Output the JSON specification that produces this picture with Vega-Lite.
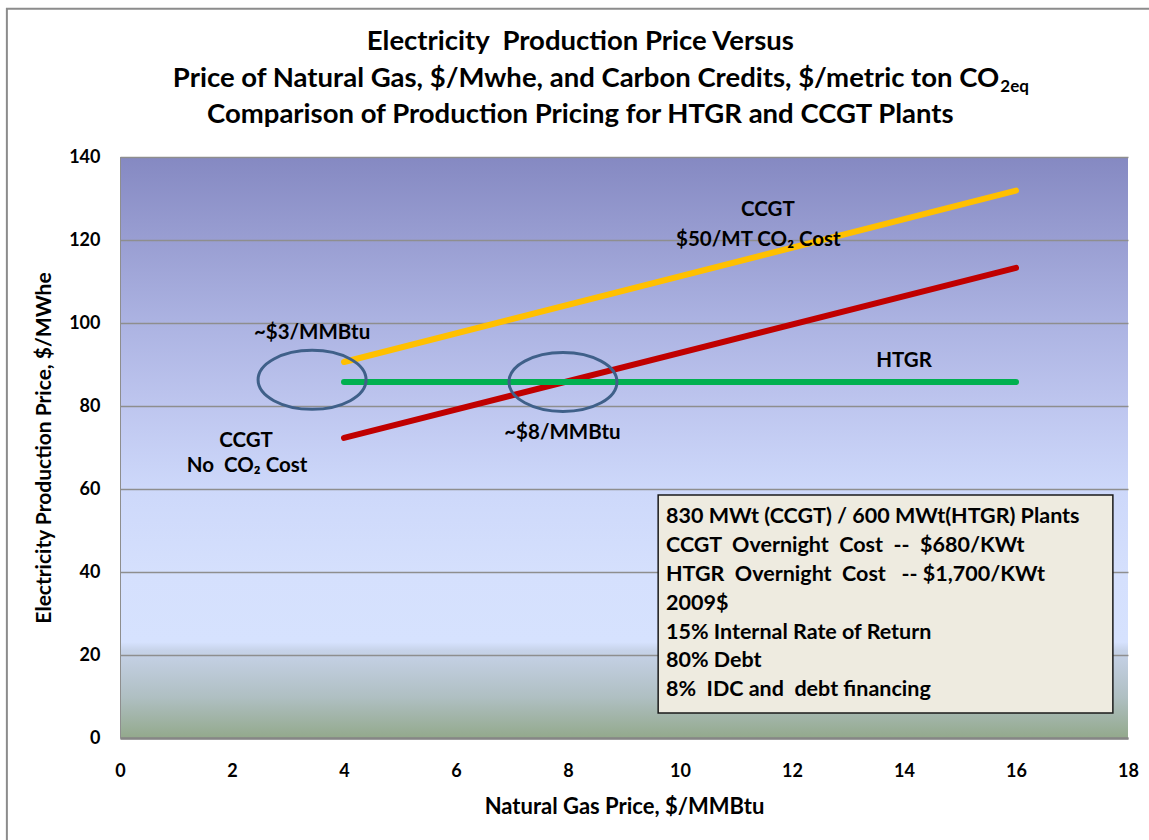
{
  "$schema": "https://vega.github.io/schema/vega-lite/v6.json",
  "width": 1008,
  "height": 581,
  "autosize": {"type": "none"},
  "padding": {"left": 120, "top": 157, "right": 21, "bottom": 102},
  "background": "white",
  "config": {
    "font": "Lato",
    "view": {
      "stroke": null,
      "fill": {
        "gradient": "linear", "x1": 0, "y1": 0, "x2": 0, "y2": 1,
        "stops": [
          {"offset": 0, "color": "#8589C2"},
          {"offset": 0.143, "color": "#999ED2"},
          {"offset": 0.286, "color": "#ACB3E2"},
          {"offset": 0.43, "color": "#BEC6EF"},
          {"offset": 0.57, "color": "#CDD8FA"},
          {"offset": 0.72, "color": "#D5E0FD"},
          {"offset": 0.835, "color": "#D6E2FE"},
          {"offset": 0.85, "color": "#C6D2E8"},
          {"offset": 0.93, "color": "#AFBFC2"},
          {"offset": 1, "color": "#93A98C"}
        ]
      }
    },
    "axis": {
      "labelFont": "Lato", "labelFontWeight": "bold", "labelFontSize": 18, "labelColor": "black",
      "titleFont": "Lato", "titleFontWeight": "bold", "titleColor": "black",
      "ticks": false
    }
  },
  "datasets": {
    "series": [
      {"series": "CCGT $50/MT CO2", "x": 4, "y": 90.6},
      {"series": "CCGT $50/MT CO2", "x": 16, "y": 131.9},
      {"series": "CCGT No CO2", "x": 4, "y": 72.3},
      {"series": "CCGT No CO2", "x": 16, "y": 113.3},
      {"series": "HTGR", "x": 4, "y": 85.8},
      {"series": "HTGR", "x": 16, "y": 85.8}
    ],
    "circles": [
      {"label": "~$3/MMBtu", "x": 3.43, "y": 86.3},
      {"label": "~$8/MMBtu", "x": 7.91, "y": 85.8}
    ],
    "notes": [
      {"x": 11.57, "y": 127.2, "text": "CCGT"},
      {"x": 11.4, "y": 120.0, "text": "$50/MT CO₂ Cost"},
      {"x": 14.0, "y": 90.8, "text": "HTGR"},
      {"x": 3.43, "y": 97.6, "text": "~$3/MMBtu"},
      {"x": 7.9, "y": 73.5, "text": "~$8/MMBtu"},
      {"x": 2.25, "y": 71.6, "text": "CCGT"},
      {"x": 2.27, "y": 65.5, "text": "No\u00a0 CO₂ Cost"}
    ],
    "box": [
      {"x": 9.75, "y": 53.3, "text": "830 MWt (CCGT) / 600 MWt(HTGR) Plants"},
      {"x": 9.75, "y": 46.3, "text": "CCGT\u00a0 Overnight\u00a0 Cost\u00a0 --\u00a0 $680/KWt"},
      {"x": 9.75, "y": 39.3, "text": "HTGR\u00a0 Overnight\u00a0 Cost\u00a0\u00a0 -- $1,700/KWt"},
      {"x": 9.75, "y": 32.3, "text": "2009$"},
      {"x": 9.75, "y": 25.3, "text": "15% Internal Rate of Return"},
      {"x": 9.75, "y": 18.6, "text": "80% Debt"},
      {"x": 9.75, "y": 11.6, "text": "8%\u00a0 IDC and\u00a0 debt financing"}
    ],
    "titleCenter": [
      {"x": 8.22, "y": 167.7, "text": "Electricity\u00a0 Production Price Versus"},
      {"x": 8.22, "y": 150.1, "text": "Comparison of Production Pricing for HTGR and CCGT Plants"}
    ],
    "titleMain2": [
      {"x": 15.70, "y": 158.8, "text": "Price of Natural Gas, $/Mwhe, and Carbon Credits, $/metric ton CO"}
    ],
    "titleSub2": [
      {"x": 15.72, "y": 156.8, "text": "2eq"}
    ]
  },
  "layer": [
    {
      "data": {"values": [{}]},
      "mark": {"type": "rect", "filled": false, "stroke": "#8C8C8C", "strokeWidth": 2, "clip": false},
      "encoding": {
        "x": {"datum": -2.02, "type": "quantitative", "scale": {"domain": [0, 18], "nice": false}, "title": "Natural Gas Price, $/MMBtu"},
        "x2": {"datum": 18.45},
        "y": {"datum": 175.7, "type": "quantitative", "scale": {"domain": [0, 140], "nice": false}, "title": "Electricity Production Price, $/MWhe"},
        "y2": {"datum": -25.5}
      }
    },
    {
      "data": {"name": "series"},
      "mark": {"type": "line", "strokeWidth": 6, "strokeCap": "round"},
      "encoding": {
        "x": {
          "field": "x", "type": "quantitative",
          "scale": {"domain": [0, 18], "nice": false},
          "title": "Natural Gas Price, $/MMBtu",
          "axis": {
            "values": [0, 2, 4, 6, 8, 10, 12, 14, 16, 18], "format": "d",
            "grid": false, "domain": true, "domainColor": "#868686", "domainWidth": 2.5,
            "labelPadding": 24, "labelFlush": false, "titleFontSize": 22, "titlePadding": 16
          }
        },
        "y": {
          "field": "y", "type": "quantitative",
          "scale": {"domain": [0, 140], "nice": false},
          "title": "Electricity Production Price, $/MWhe",
          "axis": {
            "values": [0, 20, 40, 60, 80, 100, 120, 140], "format": "d",
            "grid": true, "gridColor": "#8E8E8E", "gridWidth": 1.5,
            "domain": true, "domainColor": "#8E8E8E", "domainWidth": 1,
            "labelPadding": 20, "titleFontSize": 21, "titlePadding": 14
          }
        },
        "color": {
          "field": "series", "type": "nominal",
          "scale": {"domain": ["CCGT $50/MT CO2", "CCGT No CO2", "HTGR"], "range": ["#FFC000", "#C00000", "#00B050"]},
          "legend": null
        }
      }
    },
    {
      "data": {"name": "circles"},
      "mark": {
        "type": "point", "filled": false, "stroke": "#3F6089", "strokeWidth": 3, "opacity": 1,
        "size": 11664,
        "shape": "M-1,0 A1,0.546,0,1,1,1,0 A1,0.546,0,1,1,-1,0 Z"
      },
      "encoding": {
        "x": {"field": "x", "type": "quantitative", "scale": {"domain": [0, 18], "nice": false}, "title": "Natural Gas Price, $/MMBtu"},
        "y": {"field": "y", "type": "quantitative", "scale": {"domain": [0, 140], "nice": false}, "title": "Electricity Production Price, $/MWhe"}
      }
    },
    {
      "data": {"values": [{}]},
      "mark": {"type": "rect", "fill": "#EEEBE0", "stroke": "#1A1A1A", "strokeWidth": 1.5},
      "encoding": {
        "x": {"datum": 9.61, "type": "quantitative", "scale": {"domain": [0, 18], "nice": false}, "title": "Natural Gas Price, $/MMBtu"},
        "x2": {"datum": 17.73},
        "y": {"datum": 58.55, "type": "quantitative", "scale": {"domain": [0, 140], "nice": false}, "title": "Electricity Production Price, $/MWhe"},
        "y2": {"datum": 6.02}
      }
    },
    {
      "data": {"name": "notes"},
      "mark": {"type": "text", "font": "Lato", "fontWeight": "bold", "fontSize": 20.5, "color": "black", "align": "center", "baseline": "middle"},
      "encoding": {
        "x": {"field": "x", "type": "quantitative", "scale": {"domain": [0, 18], "nice": false}, "title": "Natural Gas Price, $/MMBtu"},
        "y": {"field": "y", "type": "quantitative", "scale": {"domain": [0, 140], "nice": false}, "title": "Electricity Production Price, $/MWhe"},
        "text": {"field": "text"}
      }
    },
    {
      "data": {"name": "box"},
      "mark": {"type": "text", "font": "Lato", "fontWeight": "bold", "fontSize": 21.5, "color": "black", "align": "left", "baseline": "middle"},
      "encoding": {
        "x": {"field": "x", "type": "quantitative", "scale": {"domain": [0, 18], "nice": false}, "title": "Natural Gas Price, $/MMBtu"},
        "y": {"field": "y", "type": "quantitative", "scale": {"domain": [0, 140], "nice": false}, "title": "Electricity Production Price, $/MWhe"},
        "text": {"field": "text"}
      }
    },
    {
      "data": {"name": "titleCenter"},
      "mark": {"type": "text", "font": "Lato", "fontWeight": "bold", "fontSize": 27.5, "color": "black", "align": "center", "baseline": "middle", "clip": false},
      "encoding": {
        "x": {"field": "x", "type": "quantitative", "scale": {"domain": [0, 18], "nice": false}, "title": "Natural Gas Price, $/MMBtu"},
        "y": {"field": "y", "type": "quantitative", "scale": {"domain": [0, 140], "nice": false}, "title": "Electricity Production Price, $/MWhe"},
        "text": {"field": "text"}
      }
    },
    {
      "data": {"name": "titleMain2"},
      "mark": {"type": "text", "font": "Lato", "fontWeight": "bold", "fontSize": 27.5, "color": "black", "align": "right", "baseline": "middle", "clip": false},
      "encoding": {
        "x": {"field": "x", "type": "quantitative", "scale": {"domain": [0, 18], "nice": false}, "title": "Natural Gas Price, $/MMBtu"},
        "y": {"field": "y", "type": "quantitative", "scale": {"domain": [0, 140], "nice": false}, "title": "Electricity Production Price, $/MWhe"},
        "text": {"field": "text"}
      }
    },
    {
      "data": {"name": "titleSub2"},
      "mark": {"type": "text", "font": "Lato", "fontWeight": "bold", "fontSize": 17, "color": "black", "align": "left", "baseline": "middle", "clip": false},
      "encoding": {
        "x": {"field": "x", "type": "quantitative", "scale": {"domain": [0, 18], "nice": false}, "title": "Natural Gas Price, $/MMBtu"},
        "y": {"field": "y", "type": "quantitative", "scale": {"domain": [0, 140], "nice": false}, "title": "Electricity Production Price, $/MWhe"},
        "text": {"field": "text"}
      }
    }
  ]
}
